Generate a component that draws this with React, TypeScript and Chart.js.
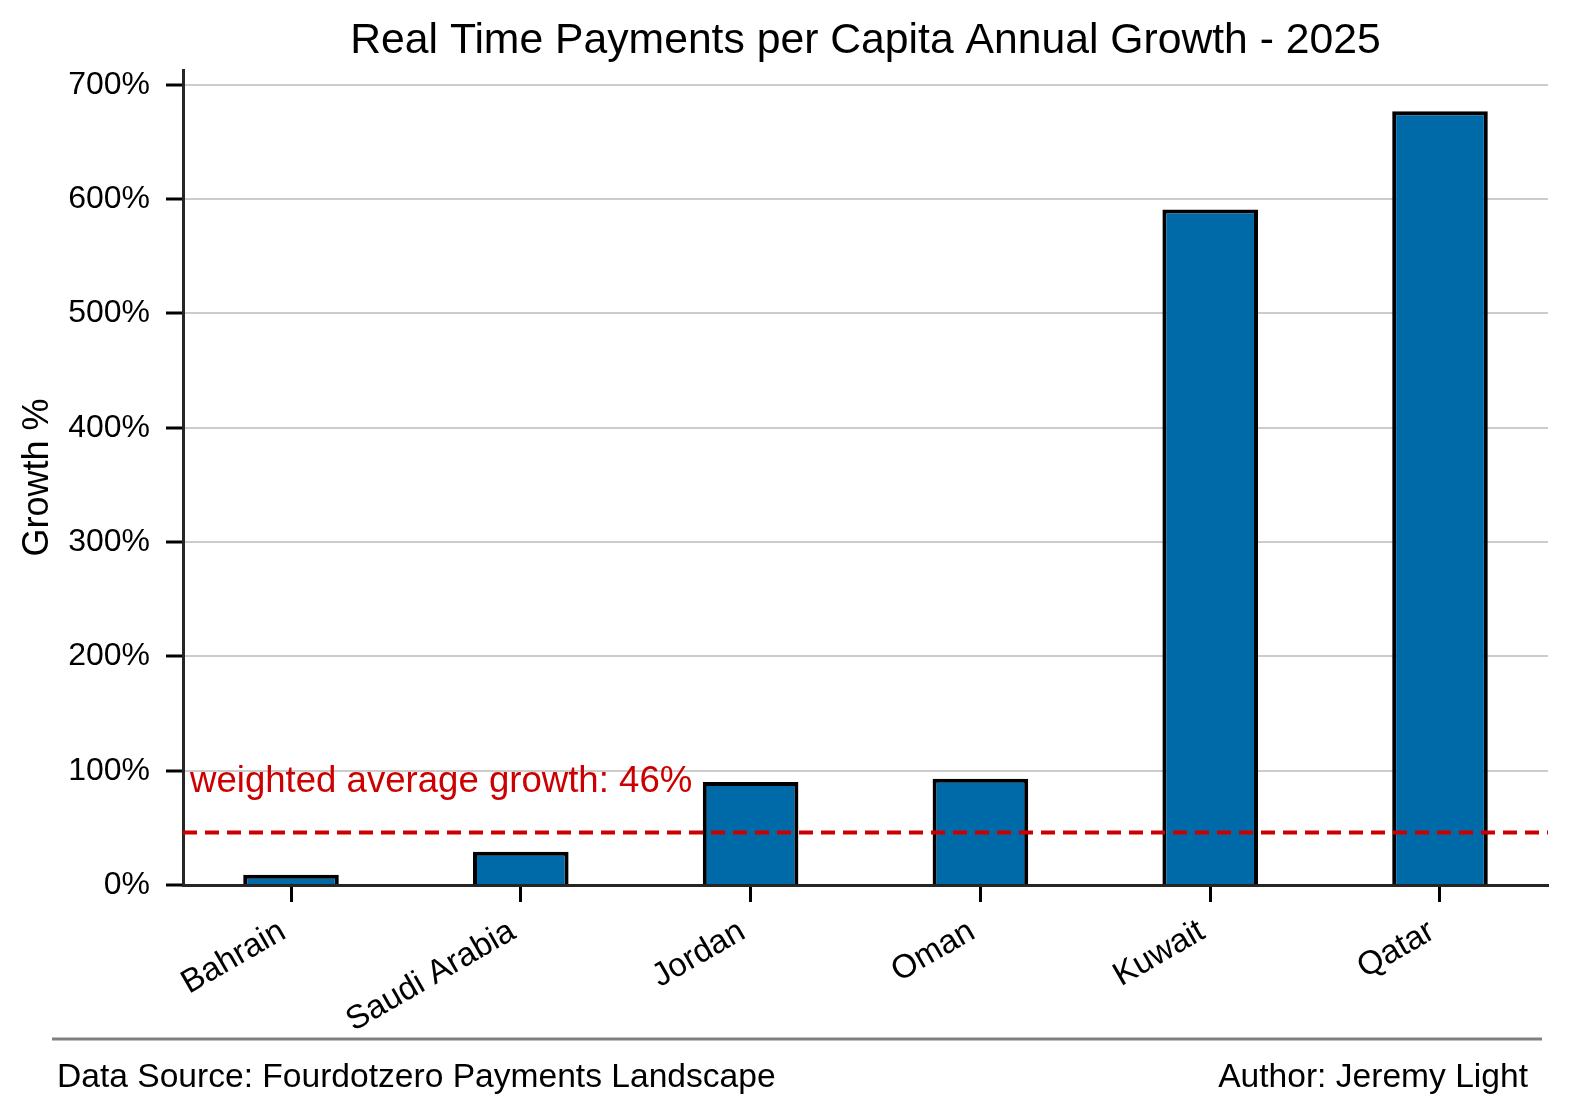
import React, { useEffect, useRef } from 'react';
import { Chart, registerables } from 'chart.js';

Chart.register(...registerables);

const countries = ['Bahrain', 'Saudi Arabia', 'Jordan', 'Oman', 'Kuwait', 'Qatar'];
const growthPct = [9, 29, 90, 93, 591, 677];
const weightedAverage = 46;
const yTickValues = [0, 100, 200, 300, 400, 500, 600, 700];

const chartTitle = 'Real Time Payments per Capita Annual Growth - 2025';
const sourceNote = 'Data Source: Fourdotzero Payments Landscape';
const authorNote = 'Author: Jeremy Light';

const FONT = '"Liberation Sans", Arial, Helvetica, sans-serif';
const X_MIN = -0.47;
const X_MAX = countries.length - 1 + 0.47;

// title, footer and the average label are drawn straight on the canvas
const decorations = {
  id: 'decorations',
  afterDatasetsDraw(chart: any) {
    const { ctx, chartArea, scales } = chart;
    const y = scales.y.getPixelForValue(weightedAverage);
    ctx.save();
    ctx.fillStyle = '#cc0000';
    ctx.font = `36.6px ${FONT}`;
    ctx.textAlign = 'left';
    ctx.textBaseline = 'alphabetic';
    ctx.fillText(`weighted average growth: ${weightedAverage}%`, chartArea.left + 7, y - 40);
    ctx.restore();
  },
  afterDraw(chart: any) {
    const { ctx, chartArea } = chart;
    ctx.save();
    ctx.fillStyle = '#000';
    ctx.font = `42.7px ${FONT}`;
    ctx.textAlign = 'center';
    ctx.textBaseline = 'alphabetic';
    ctx.fillText(chartTitle, (chartArea.left + chartArea.right) / 2, 53);

    ctx.strokeStyle = '#808080';
    ctx.lineWidth = 3;
    ctx.beginPath();
    ctx.moveTo(52, 1039);
    ctx.lineTo(1542, 1039);
    ctx.stroke();

    ctx.font = `33.6px ${FONT}`;
    ctx.textAlign = 'left';
    ctx.fillText(sourceNote, 57, 1087);
    ctx.textAlign = 'right';
    ctx.fillText(authorNote, 1528, 1087);
    ctx.restore();
  },
};

export default function App() {
  const canvasRef = useRef<HTMLCanvasElement | null>(null);

  useEffect(() => {
    document.body.style.margin = '0';
    const canvas = canvasRef.current;
    if (!canvas) return;

    const chart = new Chart(canvas, {
      type: 'bar',
      data: {
        datasets: [
          {
            type: 'line',
            data: [
              { x: X_MIN, y: weightedAverage },
              { x: X_MAX, y: weightedAverage },
            ],
            borderColor: '#cc0000',
            borderWidth: 4,
            borderDash: [14, 8],
            borderCapStyle: 'butt',
            pointRadius: 0,
            order: 0,
          } as any,
          {
            type: 'bar',
            data: growthPct.map((v, i) => ({ x: i, y: v })),
            backgroundColor: '#006aa8',
            borderColor: '#000',
            borderWidth: 4,
            barPercentage: 0.416,
            categoryPercentage: 1,
            order: 1,
          } as any,
        ],
      },
      options: {
        responsive: true,
        maintainAspectRatio: false,
        animation: false,
        layout: { padding: { left: 0, right: 21, top: 70, bottom: 82 } },
        plugins: {
          legend: { display: false },
          tooltip: { enabled: false },
          title: { display: false },
        },
        scales: {
          x: {
            type: 'linear',
            min: X_MIN,
            max: X_MAX,
            offset: false,
            afterBuildTicks: (s: any) => {
              s.ticks = countries.map((_, i) => ({ value: i }));
            },
            afterFit: (s: any) => {
              s.height = 150;
            },
            ticks: {
              callback: (v: any) => countries[v] ?? '',
              minRotation: 30,
              maxRotation: 30,
              autoSkip: false,
              color: '#000',
              padding: 10,
              labelOffset: -8,
              font: { family: FONT, size: 33 },
            },
            grid: {
              offset: false,
              drawOnChartArea: false,
              tickLength: 17,
              tickWidth: 3,
              tickColor: '#000',
            },
            border: { color: '#262626', width: 3 },
          },
          y: {
            type: 'linear',
            min: 0,
            max: 713,
            afterBuildTicks: (s: any) => {
              s.ticks = yTickValues.map((v) => ({ value: v }));
            },
            afterFit: (s: any) => {
              s.width = 183;
            },
            ticks: {
              callback: (v: any) => `${v}%`,
              color: '#000',
              padding: 16,
              font: { family: FONT, size: 32 },
            },
            grid: {
              color: '#cccccc',
              lineWidth: 2,
              tickLength: 17,
              tickWidth: 3,
              tickColor: '#000',
            },
            border: { color: '#262626', width: 3 },
            title: {
              display: true,
              text: 'Growth %',
              color: '#000',
              font: { family: FONT, size: 36 },
              padding: { top: 16, bottom: 0 },
            },
          },
        },
      },
      plugins: [decorations],
    });

    return () => chart.destroy();
  }, []);

  return (
    <div style={{ position: 'relative', width: 1569, height: 1117, background: '#fff' }}>
      <canvas ref={canvasRef} />
    </div>
  );
}
